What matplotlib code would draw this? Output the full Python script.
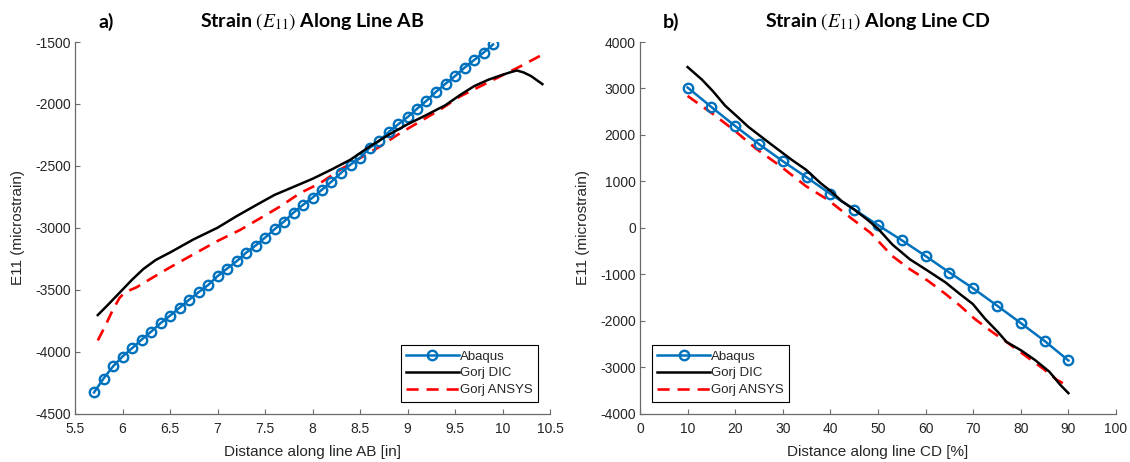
import matplotlib
matplotlib.use("Agg")
import matplotlib.pyplot as plt
from matplotlib.ticker import FuncFormatter

plt.rcParams['font.family'] = ['Liberation Sans', 'DejaVu Sans']
plt.rcParams['mathtext.fontset'] = 'stix'

# ---------------- Line AB ----------------
ab_abaqus_x = [5.7, 5.8, 5.9, 6.0, 6.1, 6.2, 6.3, 6.4, 6.5, 6.6, 6.7, 6.8, 6.9, 7.0,
               7.1, 7.2, 7.3, 7.4, 7.5, 7.6, 7.7, 7.8, 7.9, 8.0, 8.1, 8.2, 8.3, 8.4,
               8.5, 8.6, 8.7, 8.8, 8.9, 9.0, 9.1, 9.2, 9.3, 9.4, 9.5, 9.6, 9.7, 9.8, 9.9]
ab_abaqus_y = [-4330, -4218, -4120, -4040, -3973, -3904, -3840, -3771, -3710, -3646,
               -3582, -3521, -3463, -3391, -3330, -3271, -3202, -3144, -3080, -3012,
               -2950, -2878, -2815, -2757, -2692, -2627, -2557, -2490, -2435, -2355,
               -2301, -2228, -2166, -2107, -2039, -1974, -1902, -1837, -1775, -1707,
               -1646, -1586, -1520]

ab_dic_x = [5.74, 5.85, 6.0, 6.1, 6.22, 6.35, 6.5, 6.75, 7.0, 7.2, 7.4, 7.6, 7.8, 8.0,
            8.2, 8.4, 8.6, 8.8, 9.0, 9.2, 9.4, 9.55, 9.7, 9.85, 10.0, 10.08, 10.15,
            10.22, 10.3, 10.42]
ab_dic_y = [-3705, -3620, -3500, -3420, -3333, -3260, -3200, -3093, -3000, -2907,
            -2820, -2735, -2670, -2605, -2530, -2450, -2345, -2250, -2165, -2089,
            -2010, -1930, -1857, -1805, -1765, -1745, -1730, -1745, -1775, -1840]

ab_ansys_x = [5.74, 5.82, 5.9, 5.97, 6.03, 6.15, 6.29, 6.5, 6.75, 7.0, 7.24, 7.45,
              7.66, 7.87, 8.08, 8.29, 8.5, 8.71, 8.92, 9.13, 9.34, 9.55, 9.76, 9.97,
              10.18, 10.4]
ab_ansys_y = [-3910, -3790, -3660, -3565, -3520, -3480, -3415, -3320, -3213, -3107,
              -3017, -2923, -2828, -2720, -2640, -2532, -2438, -2344, -2237, -2143,
              -2048, -1941, -1860, -1780, -1700, -1610]

ab_xticks = [5.5, 6, 6.5, 7, 7.5, 8, 8.5, 9, 9.5, 10, 10.5]
ab_yticks = [-4500, -4000, -3500, -3000, -2500, -2000, -1500]

# ---------------- Line CD ----------------
cd_abaqus_x = [10, 15, 20, 25, 30, 35, 40, 45, 50, 55, 60, 65, 70, 75, 80, 85, 90]
cd_abaqus_y = [3020, 2600, 2190, 1800, 1433, 1085, 729, 393, 57, -270, -609, -964,
               -1306, -1676, -2053, -2438, -2858]

cd_dic_x = [10, 13, 15.3, 17.9, 20.2, 22.8, 27.3, 31.9, 34.9, 37.9, 40.1, 42.4, 45,
            47.7, 50, 53, 56.7, 60.5, 64.2, 67.2, 69.9, 72.5, 75.2, 77, 80, 83, 86,
            88.3, 90]
cd_dic_y = [3460, 3191, 2943, 2627, 2415, 2170, 1816, 1461, 1248, 964, 786, 571, 393,
            179, -20, -360, -680, -929, -1178, -1427, -1640, -1961, -2246, -2459,
            -2637, -2850, -3100, -3384, -3562]

cd_ansys_x = [10, 15.3, 19.8, 24.3, 29.6, 34.9, 39.4, 44.7, 48.4, 53, 56.7, 60.5,
              64.2, 67.2, 70.3, 74, 77, 80.8, 84.6, 87.6, 90.2]
cd_ansys_y = [2838, 2451, 2099, 1709, 1319, 893, 607, 179, -107, -609, -893, -1142,
              -1427, -1676, -1961, -2246, -2459, -2744, -3028, -3278, -3420]

cd_xticks = [0, 10, 20, 30, 40, 50, 60, 70, 80, 90, 100]
cd_yticks = [-4000, -3000, -2000, -1000, 0, 1000, 2000, 3000, 4000]

series_names = ['Abaqus', 'Gorj DIC', 'Gorj ANSYS']

BLUE = '#0072BD'
AXIS_GREY = '#6b6b6b'
TEXT_GREY = '#262626'

fig = plt.figure(figsize=(11.3, 4.62), dpi=100)
W, H = 1130.0, 462.0
axL = fig.add_axes([75 / W, 48.5 / H, 475 / W, 371.5 / H])
axR = fig.add_axes([640 / W, 48.5 / H, 476 / W, 371.5 / H])


def fmt_num(v, _pos=None):
    return ('%g' % v)


def draw(ax, ax_x, ax_y, dic_x, dic_y, an_x, an_y, xt, yt, xlabel, title, tag,
         legend_loc):
    ax.plot(ax_x, ax_y, color=BLUE, lw=1.8, marker='o', ms=6.8, mfc='none',
            mew=1.7, label=series_names[0], zorder=3)
    ax.plot(dic_x, dic_y, color='black', lw=1.8, label=series_names[1], zorder=4)
    ax.plot(an_x, an_y, color='#FF0000', lw=1.9, ls=(0, (4.6, 3.0)),
            label=series_names[2], zorder=2)

    ax.set_xlim(xt[0], xt[-1])
    ax.set_ylim(yt[0], yt[-1])
    ax.set_xticks(xt)
    ax.set_yticks(yt)
    ax.xaxis.set_major_formatter(FuncFormatter(fmt_num))
    ax.yaxis.set_major_formatter(FuncFormatter(fmt_num))

    for s in ('top', 'right'):
        ax.spines[s].set_visible(False)
    for s in ('left', 'bottom'):
        ax.spines[s].set_color(AXIS_GREY)
        ax.spines[s].set_linewidth(0.9)
    ax.tick_params(direction='in', length=3.5, width=0.8, color=AXIS_GREY,
                   labelcolor=TEXT_GREY, labelsize=10)
    ax.tick_params(axis='x', pad=6)
    ax.tick_params(axis='y', pad=3)

    ax.set_xlabel(xlabel, fontsize=11, color=TEXT_GREY)
    ax.set_ylabel('E11 (microstrain)', fontsize=11, color=TEXT_GREY)
    ax.xaxis.set_label_coords(0.5, -0.104)
    ax.xaxis.label.set_verticalalignment('center')
    ax.yaxis.set_label_coords(-0.12, 0.5)
    ax.yaxis.label.set_verticalalignment('center')

    ax.text(0.5, 1.054, title, transform=ax.transAxes, ha='center', va='center',
            fontsize=14, fontweight='bold', family=['Lato', 'DejaVu Sans'],
            color='black')
    ax.text(0.066, 1.054, tag, transform=ax.transAxes, ha='center', va='center',
            fontsize=14, fontweight='bold', family=['Lato', 'DejaVu Sans'],
            color='black')

    leg = ax.legend(loc=legend_loc, fontsize=9.5, frameon=True, fancybox=False,
                    edgecolor='black', handlelength=4.0, handletextpad=0.1,
                    borderpad=0.4, labelspacing=0.35, borderaxespad=0.9,
                    framealpha=1)
    leg.get_frame().set_linewidth(0.8)
    for t in leg.get_texts():
        t.set_color(TEXT_GREY)


draw(axL, ab_abaqus_x, ab_abaqus_y, ab_dic_x, ab_dic_y, ab_ansys_x, ab_ansys_y,
     ab_xticks, ab_yticks, 'Distance along line AB [in]',
     r'Strain $(E_{11})$ Along Line AB', 'a)', 'lower right')
draw(axR, cd_abaqus_x, cd_abaqus_y, cd_dic_x, cd_dic_y, cd_ansys_x, cd_ansys_y,
     cd_xticks, cd_yticks, 'Distance along line CD [%]',
     r'Strain $(E_{11})$ Along Line CD', 'b)', 'lower left')

fig.savefig('out.png', dpi=100)
